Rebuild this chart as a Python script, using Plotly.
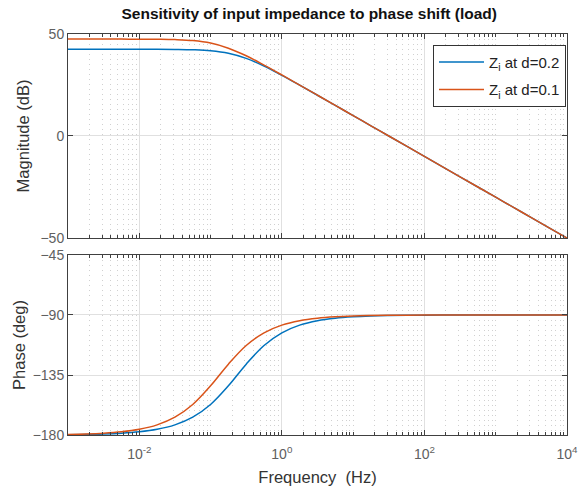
import plotly.graph_objects as go

# Frequency grid (Hz), quarter-decade steps read along the x axis
freq = [1e-3, 1.778e-3, 3.162e-3, 5.623e-3, 1e-2, 1.778e-2, 3.162e-2, 5.623e-2,
        1e-1, 1.778e-1, 3.162e-1, 5.623e-1, 1.0, 1.778, 3.162, 5.623,
        10.0, 17.78, 31.62, 56.23, 100.0, 177.8, 316.2, 562.3,
        1000.0, 1778.0, 3162.0, 5623.0, 10000.0]

# Magnitude (dB)
mag_d02 = [42.5, 42.5, 42.5, 42.5, 42.49, 42.48, 42.42, 42.26,
           41.79, 40.56, 38.05, 34.33, 29.76, 24.92, 19.98, 14.99,
           10.0, 5.0, 0.0, -5.0, -10.0, -15.0, -20.0, -25.0,
           -30.0, -35.0, -40.0, -45.0, -50.0]
mag_d01 = [47.5, 47.5, 47.5, 47.49, 47.48, 47.42, 47.26, 46.79,
           45.56, 43.05, 39.33, 34.76, 29.92, 24.98, 19.99, 15.0,
           10.0, 5.0, 0.0, -5.0, -10.0, -15.0, -20.0, -25.0,
           -30.0, -35.0, -40.0, -45.0, -50.0]

# Phase (deg)
ph_d02 = [-179.76, -179.57, -179.24, -178.64, -177.58, -175.71, -172.40, -166.66,
          -157.13, -143.13, -126.87, -112.87, -103.34, -97.60, -94.29, -92.42,
          -91.36, -90.76, -90.43, -90.24, -90.13, -90.08, -90.04, -90.02,
          -90.01, -90.0, -90.0, -90.0, -90.0]
ph_d01 = [-179.57, -179.24, -178.64, -177.58, -175.71, -172.40, -166.66, -157.13,
          -143.13, -126.87, -112.87, -103.34, -97.60, -94.29, -92.42, -91.36,
          -90.76, -90.43, -90.24, -90.13, -90.08, -90.04, -90.02, -90.01,
          -90.0, -90.0, -90.0, -90.0, -90.0]

series_names = ["Z<sub>i</sub> at d=0.2", "Z<sub>i</sub> at d=0.1"]
x_tickvals = [1e-2, 1, 1e2, 1e4]
x_ticktext = ["10<sup>-2</sup>", "10<sup>0</sup>", "10<sup>2</sup>", "10<sup>4</sup>"]
mag_ticks = [-50, 0, 50]
ph_ticks = [-180, -135, -90, -45]

BLUE = "#0072BD"
ORANGE = "#D95319"
FONT = "Liberation Sans, Arial, sans-serif"

fig = go.Figure()
fig.add_trace(go.Scatter(x=freq, y=mag_d02, mode="lines", name=series_names[0],
                         line=dict(color=BLUE, width=1.5, shape="spline"),
                         xaxis="x", yaxis="y", legendgroup="a"))
fig.add_trace(go.Scatter(x=freq, y=mag_d01, mode="lines", name=series_names[1],
                         line=dict(color=ORANGE, width=1.5, shape="spline"),
                         xaxis="x", yaxis="y", legendgroup="b"))
fig.add_trace(go.Scatter(x=freq, y=ph_d02, mode="lines", name=series_names[0],
                         line=dict(color=BLUE, width=1.5, shape="spline"),
                         xaxis="x2", yaxis="y2", showlegend=False, legendgroup="a"))
fig.add_trace(go.Scatter(x=freq, y=ph_d01, mode="lines", name=series_names[1],
                         line=dict(color=ORANGE, width=1.5, shape="spline"),
                         xaxis="x2", yaxis="y2", showlegend=False, legendgroup="b"))

axis_common = dict(showline=True, linecolor="#404040", linewidth=1, mirror="ticks",
                   ticks="inside", ticklen=5, tickcolor="#404040",
                   gridcolor="#e0e0e0", gridwidth=1, zeroline=False, automargin=False,
                   ticklabeloverflow="allow",
                   tickfont=dict(family=FONT, size=14, color="#606060"))
xminor = dict(ticks="inside", ticklen=3, tickcolor="#404040", showgrid=True,
              griddash="1px,4px", gridcolor="#d0d0d0", dtick="D1")

XR = [-3, 4.0005]
LABEL_FONT = dict(family=FONT, size=16.5, color="#333333")

fig.update_layout(
    width=578, height=495,
    paper_bgcolor="white", plot_bgcolor="white",
    margin=dict(l=68, r=11, t=34, b=60, autoexpand=False),
    title=dict(text="<b>Sensitivity of input impedance to phase shift (load)</b>",
               font=dict(family=FONT, size=15.5, color="#111111"),
               x=0.535, xanchor="center", yref="container", y=0.972, yanchor="middle",
               automargin=False),
    xaxis=dict(type="log", range=XR, anchor="y", domain=[0, 1],
               tickvals=x_tickvals, ticktext=x_ticktext, showticklabels=False,
               minor=xminor, **axis_common),
    yaxis=dict(range=[-50, 50], domain=[0.4913, 1], anchor="x",
               tickvals=mag_ticks,
               title=dict(text="Magnitude (dB)", standoff=6, font=LABEL_FONT),
               **axis_common),
    xaxis2=dict(type="log", range=XR, anchor="y2", domain=[0, 1], matches="x",
                tickvals=x_tickvals, ticktext=x_ticktext, ticklabelstandoff=6,
                title=dict(text="Frequency  (Hz)", standoff=10, font=LABEL_FONT),
                minor=xminor, **axis_common),
    yaxis2=dict(range=[-180, -45], domain=[0, 0.4489], anchor="x2",
                tickvals=ph_ticks,
                title=dict(text="Phase (deg)", standoff=2, font=LABEL_FONT),
                **axis_common),
    legend=dict(x=0.998, xanchor="right", y=0.973, yanchor="top",
                bgcolor="white", bordercolor="#333333", borderwidth=1,
                font=dict(family=FONT, size=15, color="#222222"),
                tracegroupgap=5, itemwidth=45),
    showlegend=True,
)

fig.write_html("out.html", config={"displayModeBar": False},
               post_script="document.body.style.margin='0';document.body.style.padding='0';")
